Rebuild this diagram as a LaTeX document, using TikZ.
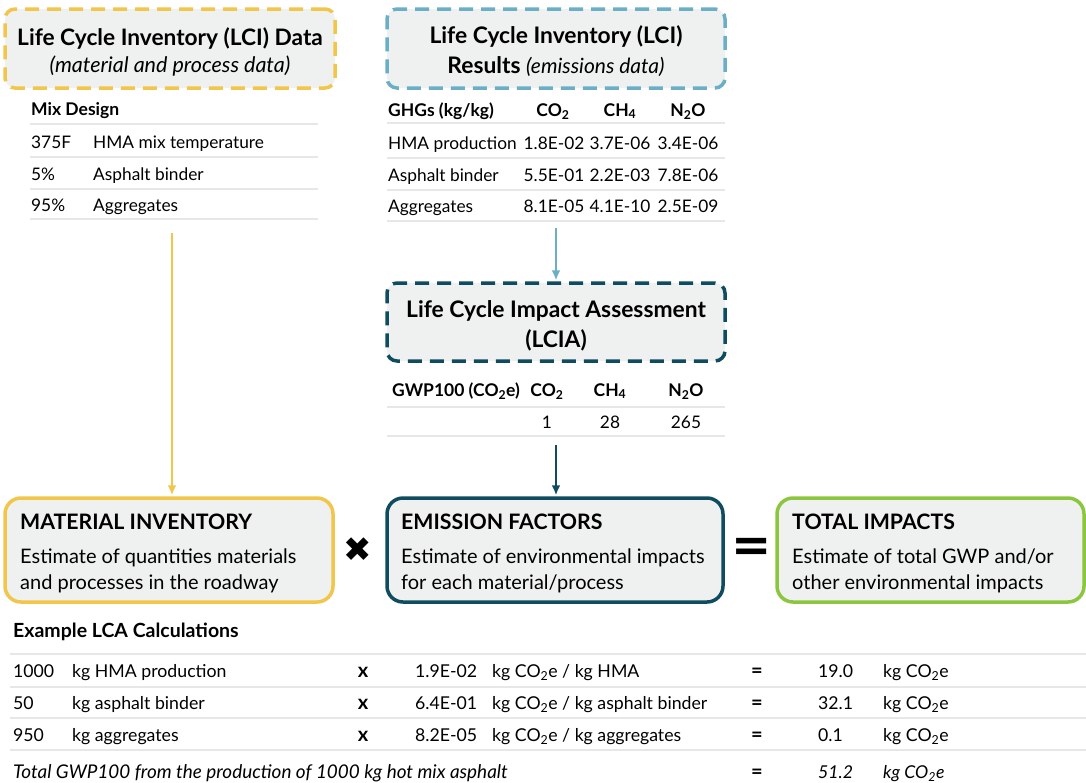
\documentclass[tikz,border=0pt]{standalone}
\usepackage{fontspec}
\setmainfont{Lato}
\newfontfamily\opfont{DejaVu Sans}
\usepackage{xcolor}
\usepackage{tikz}
\usetikzlibrary{positioning, arrows.meta}
\definecolor{lciyellow}{HTML}{F2C54B}
\definecolor{lciblue}{HTML}{6AAFC6}
\definecolor{lciateal}{HTML}{0F4C5F}
\definecolor{totgreen}{HTML}{8CC63F}
\definecolor{boxgray}{HTML}{EFF1F0}
\definecolor{rulegray}{HTML}{E6E7E7}

\begin{document}
\begin{tikzpicture}[x=1pt, y=-1pt, >={Latex[length=10pt,width=9pt]},
    font=\fontsize{17.3}{21}\selectfont,
    dashbox/.style={draw, fill=boxgray, line width=3.5pt, dash pattern=on 14pt off 8pt, rounded corners=10pt, align=center, inner sep=0pt},
    sumbox/.style={draw, fill=boxgray, line width=3.5pt, rounded corners=16pt, minimum height=104, inner sep=0pt},
    cell/.style={anchor=base west, inner sep=0pt},
    ccell/.style={anchor=base, inner sep=0pt},
    hcell/.style={cell, font=\fontsize{17.5}{21}\selectfont\bfseries},
    hccell/.style={ccell, font=\fontsize{17.5}{21}\selectfont\bfseries},
    calc/.style={cell, font=\fontsize{17.7}{21}\selectfont},
    opcell/.style={ccell, font=\fontsize{20}{21}\selectfont\bfseries},
    sumtitle/.style={anchor=base west, inner sep=0pt, font=\fontsize{21.3}{25}\selectfont\bfseries},
    sumtext/.style={anchor=base west, inner sep=0pt, font=\fontsize{20}{23}\selectfont},
    tablerule/.style={draw=rulegray, line width=1.5pt},
    flow/.style={->, line width=2pt, shorten >=1pt}]
    \useasboundingbox (0,0) rectangle (1086,782);

    % data boxes on top
    \node [dashbox, draw=lciyellow, minimum width=330, minimum height=79, font=\fontsize{22.7}{27}\selectfont] (lcidata) at (170,48.5)
        {\rule{0pt}{24pt}\bfseries Life Cycle Inventory (LCI) Data\\ \fontsize{21.5}{23}\selectfont\itshape (material and process data)};
    \node [dashbox, draw=lciblue, minimum width=338, minimum height=79, font=\fontsize{22.8}{30}\selectfont] (lciresults) at (556,48.5)
        {\rule{0pt}{24pt}\bfseries Life Cycle Inventory (LCI)\\ \bfseries Results {\mdseries\itshape\fontsize{21}{23}\selectfont (emissions data)}};
    \node [dashbox, draw=lciateal, minimum width=338, minimum height=78, font=\fontsize{22.8}{30}\selectfont] (lcia) at (556,322)
        {\rule{0pt}{25pt}\bfseries Life Cycle Impact Assessment\\ \bfseries (LCIA)};

    % mix design table
    \node [hcell] (mix-head) at (31,115) {Mix Design};
    \foreach \yr in {124,157,189,219} \draw [tablerule] (30,\yr) -- (318,\yr);
    \foreach \yb/\amt/\what [count=\i] in {148/375F/HMA mix temperature, 180/5\%/Asphalt binder, 211/95\%/Aggregates} {
        \node [cell] (mix-amt-\i) at (31,\yb) {\amt};
        \node [cell] (mix-what-\i) at (93,\yb) {\what};
    }

    % GHG table
    \node [hcell] (ghg-head) at (388,116) {GHGs (kg/kg)};
    \node [hccell] (ghg-co) at (553,116) {CO\textsubscript{2}};
    \node [hccell] (ghg-ch) at (620,116) {CH\textsubscript{4}};
    \node [hccell] (ghg-no) at (688,116) {N\textsubscript{2}O};
    \foreach \yr in {123,158,190,221} \draw [tablerule] (387,\yr) -- (725,\yr);
    \foreach \yb/\src/\co/\ch/\no [count=\i] in {149/HMA production/1.8E-02/3.7E-06/3.4E-06, 181/Asphalt binder/5.5E-01/2.2E-03/7.8E-06, 212/Aggregates/8.1E-05/4.1E-10/2.5E-09} {
        \node [cell] (ghg-src-\i) at (388,\yb) {\src};
        \node [ccell] (ghg-co-\i) at (554,\yb) {\co};
        \node [ccell] (ghg-ch-\i) at (620,\yb) {\ch};
        \node [ccell] (ghg-no-\i) at (688,\yb) {\no};
    }

    % GWP table
    \node [hcell] (gwp-head) at (392,396) {GWP100 (CO\textsubscript{2}e)};
    \node [hccell] (gwp-co) at (547,396) {CO\textsubscript{2}};
    \node [hccell] (gwp-ch) at (610,396) {CH\textsubscript{4}};
    \node [hccell] (gwp-no) at (686,396) {N\textsubscript{2}O};
    \foreach \yr in {407,436} \draw [tablerule] (387,\yr) -- (725,\yr);
    \node [ccell] (gwp-co-val) at (547,428) {1};
    \node [ccell] (gwp-ch-val) at (610,428) {28};
    \node [ccell] (gwp-no-val) at (686,428) {265};

    % the equation
    \node [sumbox, draw=lciyellow, minimum width=328] (matinv) at (169,550) {};
    \node [sumbox, draw=lciateal, minimum width=336] (emfac) at (555,550) {};
    \node [sumbox, draw=totgreen, minimum width=307] (totimp) at (930.5,550) {};
    \node [font=\opfont\fontsize{34}{34}\selectfont] (times) at (358,550) {✖};
    \node [font=\opfont\bfseries\fontsize{48}{48}\selectfont] (equals) at (752,550) {=};

    \node [sumtitle] (matinv-title) at (20,529) {MATERIAL INVENTORY};
    \node [sumtext] (matinv-l1) at (20,563) {Estimate of quantities materials};
    \node [sumtext] (matinv-l2) at (20,589) {and processes in the roadway};
    \node [sumtitle] (emfac-title) at (401,529) {EMISSION FACTORS};
    \node [sumtext] (emfac-l1) at (401,563) {Estimate of environmental impacts};
    \node [sumtext] (emfac-l2) at (401,589) {for each material/process};
    \node [sumtitle] (totimp-title) at (792,529) {TOTAL IMPACTS};
    \node [sumtext] (totimp-l1) at (792,563) {Estimate of total GWP and/or};
    \node [sumtext] (totimp-l2) at (792,589) {other environmental impacts};

    % arrows
    \coordinate (mix-end) at (172,233);
    \coordinate (ghg-end) at (556,228);
    \coordinate (gwp-end) at (556,445);
    \draw [flow, lciyellow] (mix-end) -- (mix-end |- matinv.north);
    \draw [flow, lciblue] (ghg-end) -- (lcia.north);
    \draw [flow, lciateal] (gwp-end) -- (gwp-end |- emfac.north);

    % example calculations
    \node [hcell, font=\fontsize{19.5}{23}\selectfont\bfseries] (calc-head) at (13,637) {Example LCA Calculations};
    \foreach \yr in {654,687,718,750} \draw [tablerule] (10,\yr) -- (1086,\yr);
    \foreach \yb/\qty/\what/\ef/\efper/\res [count=\i] in {677/1000/kg HMA production/1.9E-02/kg HMA/19.0, 709/50/kg asphalt binder/6.4E-01/kg asphalt binder/32.1, 741/950/kg aggregates/8.2E-05/kg aggregates/0.1} {
        \node [calc] (calc-qty-\i) at (13,\yb) {\qty};
        \node [calc] (calc-what-\i) at (72,\yb) {\what};
        \node [opcell] (calc-x-\i) at (363,\yb) {x};
        \node [calc] (calc-ef-\i) at (415,\yb) {\ef};
        \node [calc] (calc-efper-\i) at (492,\yb) {kg CO\textsubscript{2}e / \efper};
        \node [opcell] (calc-eq-\i) at (757,\yb) {=};
        \node [calc] (calc-res-\i) at (818,\yb) {\res};
        \node [calc] (calc-unit-\i) at (883,\yb) {kg CO\textsubscript{2}e};
    }
    \node [calc, font=\fontsize{18.9}{21}\selectfont\itshape] (calc-total) at (13,778) {Total GWP100 from the production of 1000 kg hot mix asphalt};
    \node [opcell] (calc-eq-total) at (757,778) {=};
    \node [calc, font=\fontsize{17.7}{21}\selectfont\itshape] (calc-res-total) at (818,778) {51.2};
    \node [calc, font=\fontsize{17.7}{21}\selectfont\itshape] (calc-unit-total) at (883,778) {kg CO\textsubscript{2}e};
\end{tikzpicture}
\end{document}
